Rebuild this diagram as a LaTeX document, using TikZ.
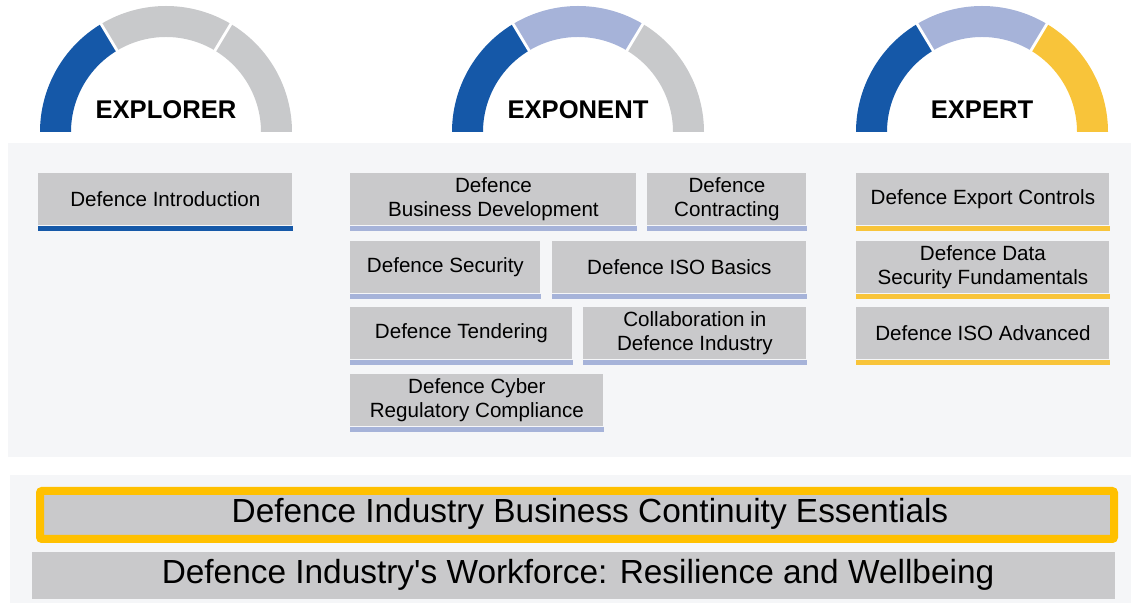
\documentclass[tikz,border=0pt]{standalone}
\usepackage{fontspec}
\setmainfont{Liberation Sans}
\usetikzlibrary{positioning}

\definecolor{lvlblue}{HTML}{1558A8}
\definecolor{lvllight}{HTML}{A6B3D9}
\definecolor{lvlgray}{HTML}{C8C9CB}
\definecolor{lvlgold}{HTML}{F8C43A}
\definecolor{panelbg}{HTML}{F5F6F8}
\definecolor{boxgray}{HTML}{C9C9CB}
\definecolor{barframe}{HTML}{FFC000}

\tikzset{
	course/.style={fill=boxgray, anchor=north west, inner sep=0pt, align=center,
		minimum height=26pt, font=\fontsize{10.3}{12}\selectfont},
	gaugetxt/.style={font=\fontsize{12.8}{15}\selectfont\bfseries},
	bartxt/.style={font=\fontsize{16.7}{20}\selectfont},
}

\begin{document}
\begin{tikzpicture}[x=0.5pt,y=-0.5pt]
	\useasboundingbox (0,0) rectangle (1131,603);
	\fill[panelbg] (8,143) rectangle (1131,457);
	\fill[panelbg] (10,475) rectangle (1131,603);
	%
	% level gauges
	\foreach \cx/\ca/\cb/\cc/\name/\lbl in {166/lvlblue/lvlgray/lvlgray/explorer/EXPLORER,
		578/lvlblue/lvllight/lvlgray/exponent/EXPONENT, 982/lvlblue/lvllight/lvlgold/expert/EXPERT}{
		\begin{scope}[shift={(\cx,132)},yscale=-1]
			\fill[\ca] (180:126) arc[start angle=180, end angle=121, radius=126] -- (121:95) arc[start angle=121, end angle=180, radius=95] -- cycle;
			\fill[\cb] (121:126) arc[start angle=121, end angle=59, radius=126] -- (59:95) arc[start angle=59, end angle=121, radius=95] -- cycle;
			\fill[\cc] (59:126) arc[start angle=59, end angle=0, radius=126] -- (0:95) arc[start angle=0, end angle=59, radius=95] -- cycle;
			\draw[white, line width=1.4pt] (121:92)--(121:129);
			\draw[white, line width=1.4pt] (59:92)--(59:129);
			\node[gaugetxt] (\name) at (0,22) {\lbl};
		\end{scope}
	}
	%
	% explorer
	\node[course, minimum width=127pt] (intro) at (38,173) {Defence Introduction};
	% exponent
	\node[course, minimum width=143pt] (bizdev) at (350,173) {Defence\\Business Development};
	\node[course, minimum width=79.5pt] (contract) at (647,173) {Defence\\Contracting};
	\node[course, minimum width=95pt] (security) at (350,241) {Defence Security};
	\node[course, minimum width=127pt] (isobasic) at (552,241) {Defence ISO Basics};
	\node[course, minimum width=111pt] (tender) at (350,307) {Defence Tendering};
	\node[course, minimum width=111.5pt] (collab) at (583,307) {Collaboration in\\Defence Industry};
	\node[course, minimum width=126.5pt] (cyber) at (350,374) {Defence Cyber\\Regulatory Compliance};
	% expert
	\node[course, minimum width=126.5pt] (export) at (856,173) {Defence Export Controls};
	\node[course, minimum width=126.5pt] (datasec) at (856,241) {Defence Data\\Security Fundamentals};
	\node[course, minimum width=126.5pt] (isoadv) at (856,307) {Defence ISO Advanced};
	%
	\foreach \n/\col in {intro/lvlblue, bizdev/lvllight, contract/lvllight, security/lvllight,
		isobasic/lvllight, tender/lvllight, collab/lvllight, cyber/lvllight,
		export/lvlgold, datasec/lvlgold, isoadv/lvlgold}
		\fill[\col] (\n.south west) rectangle ([yshift=-2.5pt]\n.south east);
	%
	% common courses
	\node[draw=barframe, line width=4pt, fill=boxgray, anchor=north west, inner sep=0pt,
		minimum width=537pt, minimum height=24pt, rounded corners=1pt] (contbar) at (36,487) {};
	\node[bartxt] (conttxt) at (590,514) {Defence Industry Business Continuity Essentials};
	\node[fill=boxgray, anchor=north west, inner sep=0pt, minimum width=541.5pt,
		minimum height=23.5pt] (workbar) at (32,552) {};
	\node[bartxt] (worktxt) at (578,575) {Defence Industry\textquotesingle s Workforce: Resilience and Wellbeing};
\end{tikzpicture}
\end{document}
